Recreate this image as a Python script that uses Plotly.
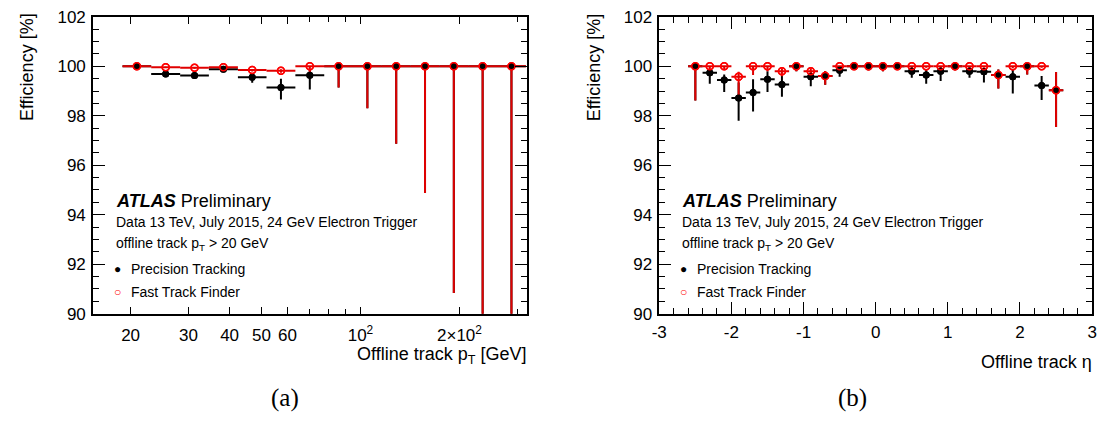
import math
import plotly.graph_objects as go

# ---------------- data: panel (a) efficiency vs offline track pT ----------------
pt_edges = [18.9, 23.1, 28.3, 34.6, 42.4, 51.8, 63.4, 77.6, 94.9, 116.1,
            142.1, 173.8, 212.7, 260.2, 318.4]
pt_prec = [100.0, 99.69, 99.63, 99.88, 99.56, 99.14, 99.64,
           100.0, 100.0, 100.0, 100.0, 100.0, 100.0, 100.0]
pt_prec_up = [0.0, 0.03, 0.04, 0.03, 0.10, 0.36, 0.22,
              0.0, 0.0, 0.0, 0.0, 0.0, 0.0, 0.0]
pt_prec_dn = [0.02, 0.06, 0.06, 0.05, 0.22, 0.48, 0.58,
              0.86, 1.70, 3.13, 5.12, 9.17, 12.0, 15.0]
pt_ftf = [100.0, 99.96, 99.94, 99.96, 99.85, 99.82, 100.0,
          100.0, 100.0, 100.0, 100.0, 100.0, 100.0, 100.0]
pt_ftf_up = [0.0, 0.02, 0.03, 0.02, 0.04, 0.06, 0.0,
             0.0, 0.0, 0.0, 0.0, 0.0, 0.0, 0.0]
pt_ftf_dn = [0.02, 0.03, 0.04, 0.03, 0.06, 0.08, 0.46,
             0.86, 1.70, 3.13, 5.12, 9.17, 12.0, 15.0]

pt_tickvals = [20, 30, 40, 50, 60, 100, 200]
pt_ticktext = ["20", "30", "40", "50", "60", "10<sup>2</sup>", "2\u00d710<sup>2</sup>"]
pt_minorvals = [70, 80, 90, 300]

# ---------------- data: panel (b) efficiency vs offline track eta ----------------
eta_edges = [-2.6, -2.4, -2.2, -2.0, -1.8, -1.6, -1.4, -1.2, -1.0, -0.8, -0.6,
             -0.4, -0.2, 0.0, 0.2, 0.4, 0.6, 0.8, 1.0, 1.2, 1.4, 1.6, 1.8,
             2.0, 2.2, 2.4, 2.6]
eta_prec = [100.0, 99.74, 99.45, 98.72, 98.94, 99.48, 99.26, 100.0, 99.58,
            99.61, 99.84, 100.0, 100.0, 100.0, 100.0, 99.80, 99.65, 99.80,
            100.0, 99.80, 99.78, 99.65, 99.58, 100.0, 99.22, 99.03]
eta_prec_up = [0.0, 0.13, 0.22, 0.63, 0.54, 0.32, 0.35, 0.0, 0.22, 0.20, 0.16,
               0.0, 0.0, 0.0, 0.0, 0.17, 0.22, 0.19, 0.0, 0.17, 0.15, 0.22,
               0.28, 0.0, 0.39, 0.74]
eta_prec_dn = [1.38, 0.45, 0.49, 0.92, 0.77, 0.52, 0.49, 0.20, 0.39, 0.36, 0.26,
               0.15, 0.16, 0.20, 0.13, 0.26, 0.36, 0.39, 0.16, 0.26, 0.43, 0.55,
               0.68, 0.33, 0.58, 1.48]
eta_ftf = [100.0, 100.0, 100.0, 99.58, 100.0, 100.0, 99.80, 100.0, 99.80,
           99.61, 100.0, 100.0, 100.0, 100.0, 100.0, 100.0, 100.0, 100.0,
           100.0, 100.0, 100.0, 99.65, 100.0, 100.0, 100.0, 99.03]
eta_ftf_up = [0.0, 0.0, 0.0, 0.20, 0.0, 0.0, 0.12, 0.0, 0.12, 0.20, 0.0,
              0.0, 0.0, 0.0, 0.0, 0.0, 0.0, 0.0, 0.0, 0.0, 0.0, 0.22,
              0.0, 0.0, 0.0, 0.74]
eta_ftf_dn = [1.38, 0.12, 0.15, 0.75, 0.35, 0.20, 0.20, 0.20, 0.30, 0.36, 0.06,
              0.15, 0.16, 0.20, 0.13, 0.06, 0.06, 0.06, 0.16, 0.06, 0.06, 0.55,
              0.08, 0.33, 0.06, 1.48]

eta_tickvals = [-3, -2, -1, 0, 1, 2, 3]
eta_ticktext = ["-3", "-2", "-1", "0", "1", "2", "3"]

# ---------------- derived bin centres / half widths ----------------
pt_x = [math.sqrt(a * b) for a, b in zip(pt_edges[:-1], pt_edges[1:])]
pt_xlo = [c - a for c, a in zip(pt_x, pt_edges[:-1])]
pt_xhi = [b - c for c, b in zip(pt_x, pt_edges[1:])]
eta_x = [(a + b) / 2 for a, b in zip(eta_edges[:-1], eta_edges[1:])]
eta_xw = [(b - a) / 2 for a, b in zip(eta_edges[:-1], eta_edges[1:])]

W, H = 1109, 431
BLACK = "#000000"
RED = "#ff0000"
RED_BAR = "#e00000"
FONT = "Liberation Sans, Arial, sans-serif"


def px(x):
    return x / W


def py(y):
    return 1 - y / H


fig = go.Figure()


def add_panel(x, xlo, xhi, yb, ybu, ybd, yr, yru, yrd, xa, ya):
    common = dict(mode="markers", xaxis=xa, yaxis=ya, showlegend=False,
                  hoverinfo="x+y")
    fig.add_trace(go.Scatter(
        x=x, y=yb,
        error_x=dict(type="data", symmetric=False, array=xhi, arrayminus=xlo,
                     color=BLACK, thickness=2, width=0),
        error_y=dict(type="data", symmetric=False, array=ybu, arrayminus=ybd,
                     color=BLACK, thickness=2, width=0),
        marker=dict(symbol="circle", size=7, color=BLACK), **common))
    fig.add_trace(go.Scatter(
        x=x, y=yr,
        error_x=dict(type="data", symmetric=False, array=xhi, arrayminus=xlo,
                     color=RED_BAR, thickness=2, width=0),
        error_y=dict(type="data", symmetric=False, array=yru, arrayminus=yrd,
                     color=RED_BAR, thickness=2, width=0),
        marker=dict(symbol="circle-open", size=7, color=RED,
                    line=dict(width=1.5, color=RED)), **common))
    # markers redrawn on top of the error bars (ROOT draws bars around markers)
    fig.add_trace(go.Scatter(
        x=x, y=yb, marker=dict(symbol="circle", size=7, color=BLACK), **common))
    fig.add_trace(go.Scatter(
        x=x, y=yr, marker=dict(symbol="circle-open", size=7, color=RED,
                               line=dict(width=1.5, color=RED)), **common))


add_panel(pt_x, pt_xlo, pt_xhi, pt_prec, pt_prec_up, pt_prec_dn,
          pt_ftf, pt_ftf_up, pt_ftf_dn, "x", "y")
add_panel(eta_x, eta_xw, eta_xw, eta_prec, eta_prec_up, eta_prec_dn,
          eta_ftf, eta_ftf_up, eta_ftf_dn, "x2", "y2")

ydom = [py(318.7), py(8.2)]
axis_common = dict(showline=True, linecolor=BLACK, linewidth=1.5, mirror="ticks",
                   ticks="inside", tickcolor=BLACK, tickwidth=1, showgrid=False,
                   zeroline=False, ticklabeloverflow="allow",
                   tickfont=dict(family=FONT, size=17, color=BLACK))

yaxis_common = dict(axis_common, range=[90, 102], tick0=90, dtick=2, ticklen=12,
                    minor=dict(dtick=0.5, ticklen=6, ticks="inside",
                               tickcolor=BLACK, showgrid=False),
                    domain=ydom, ticklabelstandoff=2)

fig.update_layout(
    width=W, height=H,
    margin=dict(l=0, r=0, t=0, b=0),
    paper_bgcolor="white", plot_bgcolor="white",
    font=dict(family=FONT, color=BLACK),
    xaxis=dict(axis_common, type="log", domain=[px(86), px(525)],
               range=[math.log10(15.37), math.log10(320.6)],
               tickmode="array", tickvals=pt_tickvals, ticktext=pt_ticktext,
               ticklen=7, anchor="y", ticklabelstandoff=5,
               minor=dict(tickmode="array", tickvals=pt_minorvals, ticklen=5,
                          ticks="inside", tickcolor=BLACK, showgrid=False)),
    yaxis=dict(yaxis_common, anchor="x"),
    xaxis2=dict(axis_common, domain=[px(659), px(1097)], range=[-3, 3],
                tickmode="array", tickvals=eta_tickvals, ticktext=eta_ticktext,
                ticklen=12, ticklabelstandoff=2,
                minor=dict(dtick=0.2, ticklen=6, ticks="inside",
                           tickcolor=BLACK, showgrid=False),
                anchor="y2"),
    yaxis2=dict(yaxis_common, anchor="x2"),
)

ann = []


def text(x, y, s, size, xanchor="left", angle=0, color=BLACK, family=FONT):
    ann.append(dict(x=px(x), y=py(y), xref="paper", yref="paper", text=s,
                    showarrow=False, xanchor=xanchor, yanchor="middle",
                    textangle=angle,
                    font=dict(family=family, size=size, color=color)))


for dx, xtitle, xty in [(0, "Offline track p<sub>T</sub> [GeV]", 363),
                        (573, "Offline track \u03b7", 369)]:
    text(20 + dx, 61, "Efficiency [%]", 18, xanchor="center", angle=-90)
    text(526 + dx, xty, xtitle, 18, xanchor="right")
    text(107 + dx, 201, "<b><i>ATLAS</i></b> Preliminary", 18)
    text(107 + dx, 223, "Data 13 TeV, July 2015, 24 GeV Electron Trigger", 14)
    text(107 + dx, 246, "offline track p<sub>T</sub> > 20 GeV", 14)
    text(110.7 + dx, 272.5, "\u25cf", 12, xanchor="center")
    text(122 + dx, 272.5, "Precision Tracking", 14)
    text(110.7 + dx, 296, "\u25cb", 12, xanchor="center", color=RED)
    text(122 + dx, 296, "Fast Track Finder", 14)

text(280, 407, "(a)", 25, xanchor="center", family="Liberation Serif, serif")
text(855, 407, "(b)", 25, xanchor="center", family="Liberation Serif, serif")

fig.update_layout(annotations=ann)
# remove the browser's default 8px body margin so the figure sits at (0, 0)
fig.write_html("out.html",
               config={"displayModeBar": False},
               post_script="document.body.style.margin='0';"
                           "document.body.style.overflow='hidden';")
